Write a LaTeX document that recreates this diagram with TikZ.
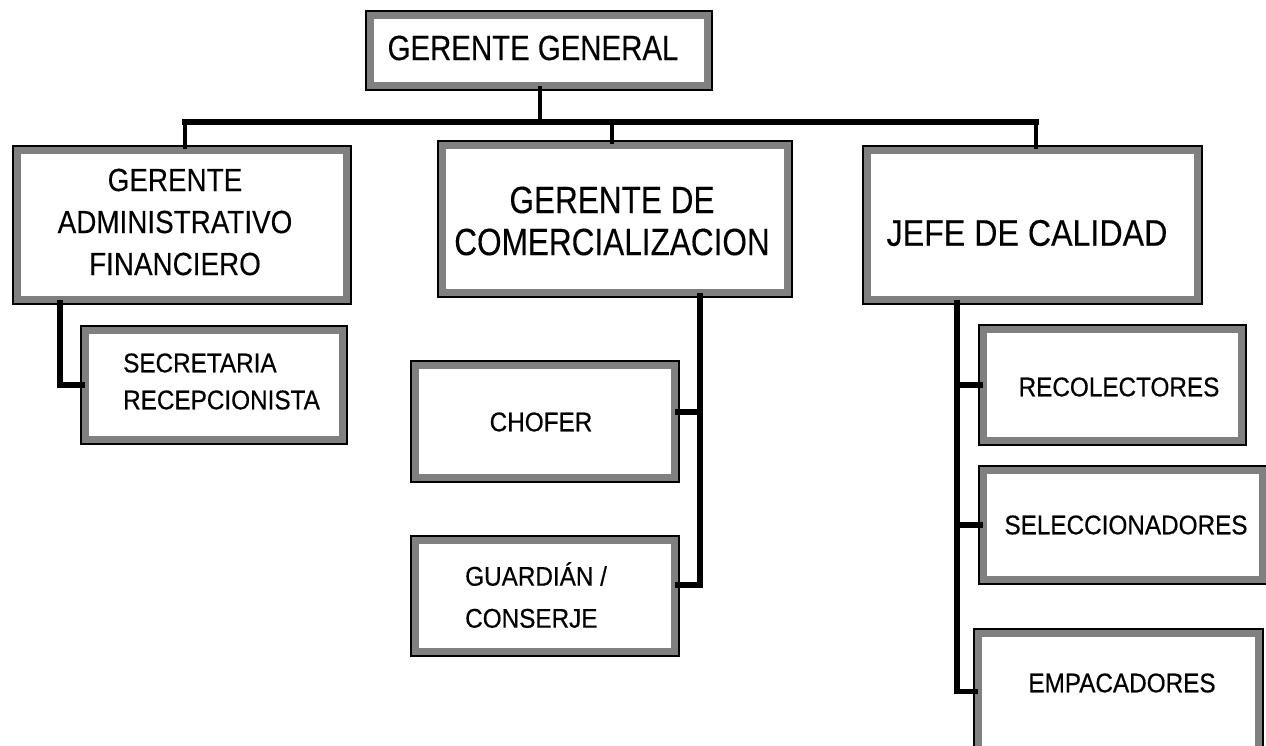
\documentclass[tikz,border=0pt]{standalone}
\usepackage{fontspec}
\setmainfont{Liberation Sans}
\newfontfamily\smallfont[FakeBold=0.5]{Liberation Sans}
\newfontfamily\bigfont[FakeBold=0.25]{Liberation Sans}
\usepackage{graphicx}
\definecolor{framegray}{HTML}{808080}
\newcommand{\sq}[2]{\scalebox{#1}[1]{#2}}
\begin{document}
\begin{tikzpicture}[x=1pt,y=-1pt,
  box/.style={rectangle, fill=white, draw=framegray, line width=7pt,
    preaction={draw=black, line width=11pt}, inner sep=0pt},
  lbl/.style={inner sep=0pt, text=black},
  big/.style={lbl},
  small/.style={lbl, font=\smallfont\fontsize{27}{40}\selectfont},
  conn/.style={line width=5.5pt, line cap=rect},
  barline/.style={line width=6.5pt, line cap=rect}]
\clip (0,0) rectangle (1266,745);
\fill[white] (0,0) rectangle (1266,745);

% boxes
\node[box, minimum width=337pt, minimum height=70pt]  (GG)  at (539,50) {};
\node[box, minimum width=329pt, minimum height=149pt] (GAF) at (182,225) {};
\node[box, minimum width=345pt, minimum height=147pt] (GC)  at (615,219) {};
\node[box, minimum width=330pt, minimum height=149pt] (JC)  at (1032.5,225) {};
\node[box, minimum width=257pt, minimum height=109pt] (SR)  at (214,385) {};
\node[box, minimum width=259pt, minimum height=112pt] (CH)  at (545,421.5) {};
\node[box, minimum width=259pt, minimum height=111pt] (GU)  at (545,596) {};
\node[box, minimum width=258pt, minimum height=111pt] (RE)  at (1112.5,385) {};
\node[box, minimum width=279pt, minimum height=109pt] (SE)  at (1123,525) {};
\node[box, minimum width=280pt, minimum height=116pt] (EM)  at (1118.5,691.5) {};

% texts
\node[big, font=\bigfont\fontsize{35}{42}\selectfont] (tGG) at (533,48) {\sq{0.84}{GERENTE GENERAL}};
\node[big, font=\bigfont\fontsize{32}{42}\selectfont, align=center] (tGAF) at (175,222)
  {\sq{0.87}{GERENTE}\\\sq{0.87}{ADMINISTRATIVO}\\\sq{0.87}{FINANCIERO}};
\node[big, font=\bigfont\fontsize{38}{42}\selectfont, align=center] (tGC) at (612,221)
  {\sq{0.83}{GERENTE DE}\\\sq{0.83}{COMERCIALIZACION}};
\node[big, font=\bigfont\fontsize{37}{42}\selectfont] (tJC) at (1027,233) {\sq{0.87}{JEFE DE CALIDAD}};
\node[small, font=\smallfont\fontsize{27}{37}\selectfont, align=left, anchor=west] (tSR) at (123,381.5)
  {\sq{0.9}{SECRETARIA}\\\sq{0.9}{RECEPCIONISTA}};
\node[small] (tCH) at (541,422) {\sq{0.9}{CHOFER}};
\node[small, font=\smallfont\fontsize{27}{42}\selectfont, align=left, anchor=west] (tGU) at (465,597)
  {\sq{0.9}{GUARDI\smash{Á}N /}\\\sq{0.9}{CONSERJE}};
\node[small] (tRE) at (1119,387) {\sq{0.9}{RECOLECTORES}};
\node[small] (tSE) at (1126,525) {\sq{0.9}{SELECCIONADORES}};
\node[small] (tEM) at (1122,683) {\sq{0.9}{EMPACADORES}};

% top level connectors
\coordinate (b0) at (540,122);
\coordinate (d1) at (185,122);
\coordinate (d2) at (612,122);
\coordinate (d3) at (1036,122);
\draw[conn, line width=4.5pt] (GG.south -| b0) -- (b0);
\draw[barline] (d1) -- (d3);
\draw[conn, line width=4.5pt] (d1) -- (d1 |- GAF.north);
\draw[conn, line width=4.5pt] (d2) -- (d2 |- GC.north);
\draw[conn, line width=4.5pt] (d3) -- (d3 |- JC.north);

% GAF -> SR
\coordinate (s1) at (60,0);
\draw[conn] (s1 |- GAF.south) |- (SR.west);

% GC -> CH, GU
\coordinate (k1) at (700,412);
\coordinate (k2) at (700,585);
\draw[conn] (k1 |- GC.south) -- (k2) -- (k2 -| GU.east);
\draw[conn] (k1) -- (k1 -| CH.east);

% JC -> RE, SE, EM
\coordinate (s3) at (957,0);
\draw[conn] (s3 |- JC.south) |- (EM.west);
\draw[conn] (s3 |- RE.west) -- (RE.west);
\draw[conn] (s3 |- SE.west) -- (SE.west);
\end{tikzpicture}
\end{document}
